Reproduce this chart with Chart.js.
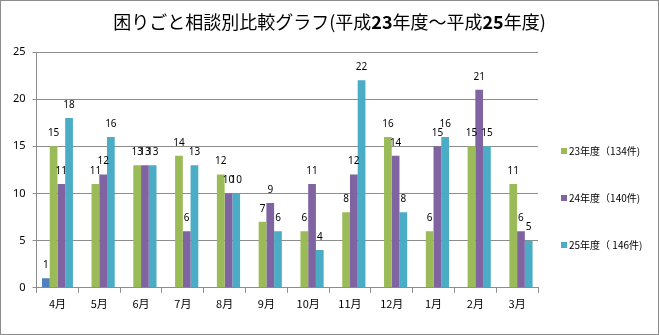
<!DOCTYPE html>
<html>
<head>
<meta charset="utf-8">
<script src="https://cdn.jsdelivr.net/npm/chart.js@4.4.1/dist/chart.umd.min.js"></script>
<style>
  body { margin: 0; background: #fff; }
  #wrap { width: 659px; height: 335px; box-sizing: border-box; border: 1px solid #8c8c8c; }
</style>
</head>
<body>
<div id="wrap"><canvas id="chart"></canvas></div>
<script>
const months = ["4月", "5月", "6月", "7月", "8月", "9月", "10月", "11月", "12月", "1月", "2月", "3月"];
const fy23 = [15, 11, 13, 14, 12, 7, 6, 8, 16, 6, 15, 11];
const fy24 = [11, 12, 13, 6, 10, 9, 11, 12, 14, 15, 21, 6];
const fy25 = [18, 16, 13, 13, 10, 6, 4, 22, 8, 16, 15, 5];
// stray series in the original sheet, not shown in the legend
const extra = [1, null, null, null, null, null, null, null, null, null, null, null];
const seriesNames = ["23年度（134件)", "24年度（140件)", "25年度（ 146件)"];
const yTicks = [0, 5, 10, 15, 20, 25];
// title pieces, the year digits come out bold in the original
const titleParts = [
  ["困りごと相談別比較グラフ(平成", false],
  ["23", true],
  ["年度～平成", false],
  ["25", true],
  ["年度)", false]
];

const jpFont = "'Noto Sans CJK JP', 'Noto Sans', sans-serif";
Chart.defaults.font.family = jpFont;
Chart.defaults.color = "#000";

// title centred on the whole picture, not on the plot
const pageTitle = {
  id: "pageTitle",
  afterDraw(chart) {
    const ctx = chart.ctx;
    ctx.save();
    ctx.fillStyle = "#000";
    ctx.textBaseline = "middle";
    const fontOf = (bold) => (bold ? "bold " : "") + "18px " + jpFont;
    let total = 0;
    titleParts.forEach(([t, b]) => { ctx.font = fontOf(b); total += ctx.measureText(t).width; });
    let x = chart.width / 2 - total / 2;
    titleParts.forEach(([t, b]) => {
      ctx.font = fontOf(b);
      ctx.fillText(t, x, 21);
      x += ctx.measureText(t).width;
    });
    ctx.restore();
  }
};

// value labels above each bar
const barLabels = {
  id: "barLabels",
  afterDatasetsDraw(chart) {
    const ctx = chart.ctx;
    ctx.save();
    ctx.font = "10px 'Noto Sans', sans-serif";
    ctx.fillStyle = "#000";
    ctx.textAlign = "center";
    ctx.textBaseline = "middle";
    chart.data.datasets.forEach((ds, i) => {
      chart.getDatasetMeta(i).data.forEach((bar, j) => {
        if (ds.data[j] == null) return;
        ctx.fillText(ds.data[j], bar.x, bar.y - 13);
      });
    });
    ctx.restore();
  }
};

// legend on the right, spaced like the Excel one
const sideLegend = {
  id: "sideLegend",
  afterDraw(chart) {
    const ctx = chart.ctx;
    ctx.save();
    ctx.font = "10px " + jpFont;
    ctx.textBaseline = "middle";
    let y = 150;
    chart.data.datasets.forEach((ds) => {
      if (!ds.label) return;
      ctx.fillStyle = ds.backgroundColor;
      ctx.fillRect(560, y - 3, 6, 6);
      ctx.fillStyle = "#000";
      ctx.fillText(ds.label, 568, y);
      y += 47;
    });
    ctx.restore();
  }
};

new Chart(document.getElementById("chart"), {
  type: "bar",
  data: {
    labels: months,
    datasets: [
      { label: "", data: extra, backgroundColor: "#4F81BD" },
      { label: seriesNames[0], data: fy23, backgroundColor: "#9BBB59" },
      { label: seriesNames[1], data: fy24, backgroundColor: "#8064A2" },
      { label: seriesNames[2], data: fy25, backgroundColor: "#4BACC6" }
    ]
  },
  options: {
    responsive: true,
    maintainAspectRatio: false,
    animation: false,
    layout: { padding: { left: 5, right: 120, top: 51, bottom: 20 } },
    datasets: { bar: { categoryPercentage: 0.74, barPercentage: 1.0 } },
    plugins: {
      legend: { display: false },
      tooltip: { enabled: false },
      title: { display: false }
    },
    scales: {
      x: {
        grid: { drawOnChartArea: false, drawTicks: true, tickLength: 5, color: "#8c8c8c" },
        border: { color: "#8c8c8c" },
        ticks: { font: { size: 11, family: jpFont }, padding: 4, color: "#000" }
      },
      y: {
        min: 0,
        max: 25,
        afterBuildTicks(scale) { scale.ticks = yTicks.map((v) => ({ value: v })); },
        grid: { color: "#8c8c8c", tickLength: 4 },
        border: { color: "#8c8c8c" },
        ticks: { font: { size: 11, family: "'Noto Sans', sans-serif" }, padding: 7, color: "#000" }
      }
    }
  },
  plugins: [pageTitle, barLabels, sideLegend]
});
</script>
</body>
</html>
